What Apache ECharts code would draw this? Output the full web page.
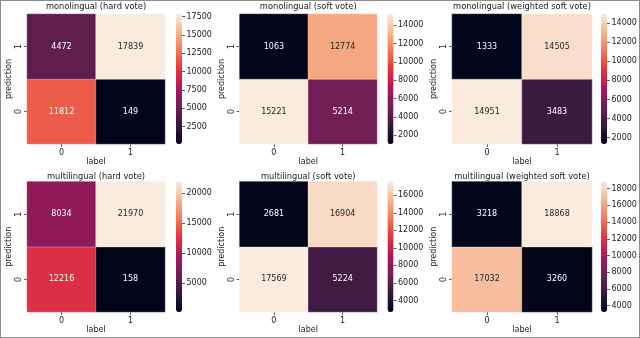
<!DOCTYPE html>
<html><head><meta charset="utf-8">
<script src="https://cdn.jsdelivr.net/npm/echarts@6/dist/echarts.min.js"></script>
<style>
html,body{margin:0;padding:0;background:#fff}
#wrap{position:relative;width:640px;height:338px}
#c{position:absolute;left:0;top:0;width:640px;height:338px}
#frame{position:absolute;left:0;top:0;width:640px;height:338px;box-sizing:border-box;border:1.5px solid #8c8c8c;pointer-events:none}
</style>
</head><body>
<div id="wrap"><div id="c"></div><div id="frame"></div></div>
<script>
// ---- data ----
const titles = ['monolingual (hard vote)', 'monolingual (soft vote)', 'monolingual (weighted soft vote)',
                'multilingual (hard vote)', 'multilingual (soft vote)', 'multilingual (weighted soft vote)'];
const labelCategories = ['0', '1'];        // x axis: label
const predictionCategories = ['0', '1'];   // y axis: prediction (0 bottom, 1 top)
// rows: prediction 0, prediction 1 ; columns: label 0, label 1
const monoHard     = [[11812, 149], [4472, 17839]];
const monoSoft     = [[15221, 5214], [1063, 12774]];
const monoWeighted = [[14951, 3483], [1333, 14505]];
const multiHard     = [[12216, 158], [8034, 21970]];
const multiSoft     = [[17569, 5224], [2681, 16904]];
const multiWeighted = [[17032, 3260], [3218, 18868]];
// colorbar tick labels
const cbTicksMonoHard     = [2500, 5000, 7500, 10000, 12500, 15000, 17500];
const cbTicksMonoSoft     = [2000, 4000, 6000, 8000, 10000, 12000, 14000];
const cbTicksMonoWeighted = [2000, 4000, 6000, 8000, 10000, 12000, 14000];
const cbTicksMultiHard     = [5000, 10000, 15000, 20000];
const cbTicksMultiSoft     = [4000, 6000, 8000, 10000, 12000, 14000, 16000];
const cbTicksMultiWeighted = [4000, 6000, 8000, 10000, 12000, 14000, 16000, 18000];

const matrices = [monoHard, monoSoft, monoWeighted, multiHard, multiSoft, multiWeighted];
const cbTicks = [cbTicksMonoHard, cbTicksMonoSoft, cbTicksMonoWeighted, cbTicksMultiHard, cbTicksMultiSoft, cbTicksMultiWeighted];

// ---- style / layout ----
const rocket = ['#03051a', '#35193e', '#701f57', '#ad1759', '#e13342', '#f37651', '#f6b48f', '#faebdd'];
const FONT = 'DejaVu Sans';
const TXT = '#1a1a1a';
const colLeft = [27, 239.5, 452];
const colWidth = [138, 137.5, 140];
const cbLeft = [176, 387.5, 601];
const cbWidth = 6;
const rowTop = [14, 181.5];
const rowHeight = [130, 130.5];
const labelGap = [14, 13];
const titleGap = [3, 0.5];

function hexToRgb(h) { return [parseInt(h.substr(1,2),16), parseInt(h.substr(3,2),16), parseInt(h.substr(5,2),16)]; }
function rocketAt(t) {
  t = Math.max(0, Math.min(1, t));
  const n = rocket.length - 1, p = t * n, i = Math.min(n - 1, Math.floor(p)), f = p - i;
  const a = hexToRgb(rocket[i]), b = hexToRgb(rocket[i + 1]);
  return [0,1,2].map(k => a[k] + (b[k] - a[k]) * f);
}
function luminance(rgb) {
  const l = rgb.map(c => { c /= 255; return c <= 0.03928 ? c / 12.92 : Math.pow((c + 0.055) / 1.055, 2.4); });
  return 0.2126 * l[0] + 0.7152 * l[1] + 0.0722 * l[2];
}

const grid = [], xAxis = [], yAxis = [], series = [], visualMap = [];
matrices.forEach((m, i) => {
  const r = Math.floor(i / 3), c = i % 3;
  const flat = m.flat();
  const mn = Math.min(...flat), mx = Math.max(...flat);
  grid.push({ left: colLeft[c], top: rowTop[r], width: colWidth[c], height: rowHeight[r] });
  grid.push({ left: cbLeft[c], top: rowTop[r], width: cbWidth, height: rowHeight[r] });
  const gH = 2 * i, gC = 2 * i + 1;
  xAxis.push({
    type: 'category', gridIndex: gH, data: labelCategories, position: 'bottom',
    name: 'label', nameLocation: 'middle', nameGap: labelGap[r],
    nameTextStyle: { fontFamily: FONT, fontSize: 8, color: TXT },
    axisLine: { show: false },
    axisTick: { show: true, alignWithLabel: true, length: 3, lineStyle: { color: '#333', width: 0.8 } },
    axisLabel: { fontFamily: FONT, fontSize: 8, color: TXT, margin: 5 },
    splitLine: { show: false }, splitArea: { show: false }
  });
  xAxis.push({
    type: 'category', gridIndex: gH, data: labelCategories, position: 'top',
    name: titles[i], nameLocation: 'middle', nameGap: titleGap[r],
    nameTextStyle: { fontFamily: FONT, fontSize: 8.3, color: TXT },
    axisLine: { show: false }, axisTick: { show: false }, axisLabel: { show: false },
    splitLine: { show: false }
  });
  xAxis.push({ type: 'category', gridIndex: gC, data: [''], show: false });
  yAxis.push({
    type: 'category', gridIndex: gH, data: predictionCategories,
    name: 'prediction', nameLocation: 'middle', nameGap: 14,
    nameTextStyle: { fontFamily: FONT, fontSize: 8, color: TXT },
    axisLine: { show: false },
    axisTick: { show: true, alignWithLabel: true, length: 3, lineStyle: { color: '#333', width: 0.8 } },
    axisLabel: { fontFamily: FONT, fontSize: 8, color: TXT, rotate: 90, margin: 4 },
    splitLine: { show: false }, splitArea: { show: false }
  });
  yAxis.push({
    type: 'value', gridIndex: gC, position: 'right', min: mn, max: mx,
    axisLine: { show: false },
    axisTick: { show: true, length: 3, customValues: cbTicks[i], lineStyle: { color: '#333', width: 0.8 } },
    axisLabel: { fontFamily: FONT, fontSize: 8, color: TXT, margin: 4.5, customValues: cbTicks[i],
                 formatter: v => String(v) },
    splitLine: { show: false }
  });
  const data = [];
  for (let p = 0; p < 2; p++) for (let l = 0; l < 2; l++) {
    const v = m[p][l];
    const lum = luminance(rocketAt((v - mn) / (mx - mn)));
    data.push({ value: [l, p, v], label: { color: lum > 0.408 ? '#262626' : '#ffffff' } });
  }
  series.push({
    type: 'heatmap', xAxisIndex: 3 * i, yAxisIndex: 2 * i, data: data,
    label: { show: true, fontFamily: FONT, fontSize: 8 },
    itemStyle: { borderColor: 'rgba(255,255,255,0.6)', borderWidth: 0.5 },
    emphasis: { disabled: true }
  });
  visualMap.push({
    type: 'continuous', seriesIndex: i, min: mn, max: mx,
    inRange: { color: rocket },
    left: cbLeft[c], top: rowTop[r], itemWidth: cbWidth, itemHeight: rowHeight[r],
    padding: 0, calculable: false, text: null, hoverLink: false, showLabel: false
  });
});

const chart = echarts.init(document.getElementById('c'), null, { renderer: 'canvas' });
chart.setOption({
  animation: false,
  backgroundColor: '#ffffff',
  grid, xAxis, yAxis, series, visualMap
});
</script>
</body></html>
